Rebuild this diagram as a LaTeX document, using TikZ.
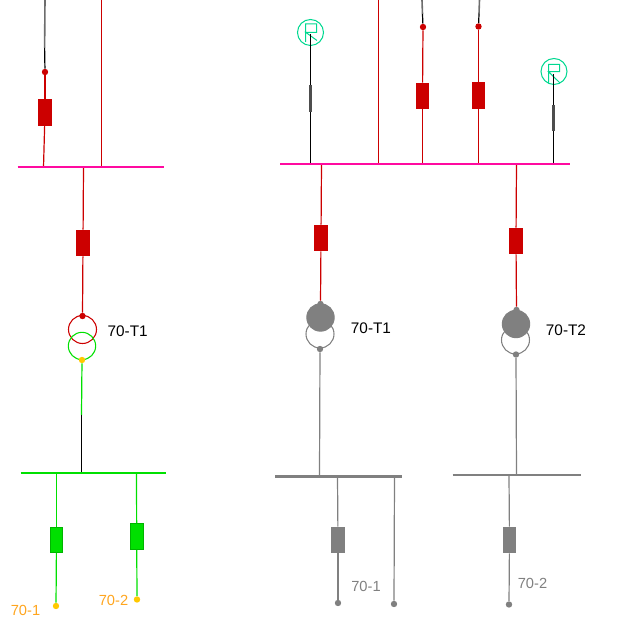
\documentclass[tikz,border=0pt]{standalone}
\usepackage{fontspec}
\setmainfont{Liberation Sans}
\definecolor{rd}{HTML}{CC0000}
\definecolor{pk}{HTML}{FF0AA0}
\definecolor{gn}{HTML}{00E000}
\definecolor{dgn}{HTML}{00B400}
\definecolor{gy}{HTML}{808080}
\definecolor{or}{HTML}{FFA51E}
\definecolor{yl}{HTML}{FFC800}
\definecolor{tl}{HTML}{00D890}
\tikzset{
  wire/.style={line width=.9pt,line cap=butt},
  topwire/.style={line width=1.2pt,color=gy!85!black},
  busbar/.style={line width=1.7pt},
  brk/.style={rectangle,inner sep=0pt,minimum width=10pt,minimum height=19.8pt},
  dotn/.style={circle,inner sep=0pt,minimum size=4.8pt,fill=#1},
  ring/.style={circle,inner sep=0pt,minimum size=#1,draw,line width=.8pt},
  lbl/.style={font=\fontsize{11.5pt}{13pt}\selectfont,text=black,inner sep=0pt},
  lbls/.style={font=\fontsize{11pt}{13pt}\selectfont,inner sep=0pt},
  thick seg/.style={line width=2.2pt,color=gy!60!black},
  relay/.style={tl,line width=.75pt},
}
\begin{document}
\begin{tikzpicture}[x=.75pt,y=-.75pt]
\useasboundingbox (0,0) rectangle (644,630);
% --- left diagram: fixed points
\coordinate (LtopA) at (45,0);
\coordinate (LmidA) at (44.6,48);
\coordinate (LtopB) at (101.5,0);
\coordinate (LbusW) at (17.5,167.3);
\coordinate (LbusE) at (163.5,167.3);
\coordinate (LbusA) at (43.5,167.3);
\coordinate (LbusB) at (101.5,167.3);
\coordinate (LbusC) at (83.5,167.3);
\coordinate (LgbW) at (20.5,473);
\coordinate (LgbE) at (166,473);
\coordinate (LgbA) at (81.5,473);
\coordinate (LgbB) at (56.5,473);
\coordinate (LgbC) at (136.5,473);
\coordinate (Lgb) at (81.5,415);
% nodes
\node[brk,fill=rd] (Lb1) at (45,112.5) {};
\node[brk,fill=rd] (Lb2) at (83,243) {};
\node[brk,fill=gn,draw=dgn,line width=.6pt,minimum width=9pt,minimum height=18.8pt] (Lb3) at (56.5,540) {};
\node[brk,fill=gn,draw=dgn,line width=.6pt,minimum width=9.5pt,minimum height=19.5pt] (Lb4) at (136.7,536.5) {};
\node[ring=21pt,draw=rd] (Lt1) at (82.5,329.5) {};
\node[ring=20.5pt,draw=gn] (Lt2) at (82,346) {};
\node[dotn=rd] (Ld1) at (45,72) {};
\node[dotn=rd] (Ld2) at (82.5,316) {};
\node[dotn=yl] (Ld3) at (82,360) {};
\node[dotn=yl] (Ld4) at (56,606) {};
\node[dotn=yl] (Ld5) at (137,599.5) {};
\node[lbl] (Ll1) at (127.7,331.5) {70-T1};
\node[lbls,text=or] (Ll2) at (25.5,610) {70-1};
\node[lbls,text=or] (Ll3) at (113.5,600.5) {70-2};
% connectors
\draw[topwire] (LtopA) -- (LmidA);
\draw[wire,black] (LmidA) -- (Ld1);
\draw[wire,rd] (Ld1) -- (Lb1);
\draw[wire,rd] (Lb1) -- (LbusA);
\draw[wire,rd] (LtopB) -- (LbusB);
\draw[wire,rd] (LbusC) -- (Lb2);
\draw[wire,rd] (Lb2) -- (Ld2);
\draw[wire,gn] (Ld3) -- (Lgb);
\draw[wire,black] (Lgb) -- (LgbA);
\draw[wire,gn] (LgbB) -- (Lb3);
\draw[wire,gn] (Lb3) -- (Ld4);
\draw[wire,gn] (LgbC) -- (Lb4);
\draw[wire,gn] (Lb4) -- (Ld5);
\draw[busbar,pk] (LbusW) -- (LbusE);
\draw[busbar,gn] (LgbW) -- (LgbE);
% --- right diagram: fixed points
\coordinate (RbusW) at (280,164.2);
\coordinate (RbusE) at (570,164.2);
\coordinate (RbusA) at (310.5,164);
\coordinate (RbusB) at (378.5,164);
\coordinate (RbusC) at (422.5,164);
\coordinate (RbusD) at (478.5,164);
\coordinate (RbusE2) at (553.5,164);
\coordinate (RbusF) at (321.5,164);
\coordinate (RbusG) at (516.5,164);
\coordinate (RtopB) at (378.5,0);
\coordinate (RtopC) at (422,0);
\coordinate (RmidC) at (422.5,14);
\coordinate (RtopD) at (479.5,0);
\coordinate (RmidD) at (479,14);
\coordinate (Rs1) at (310.5,85);
\coordinate (Rs2) at (310.5,112);
\coordinate (Rs3) at (553.5,105);
\coordinate (Rs4) at (553.5,131);
\coordinate (Gb1W) at (275,476.5);
\coordinate (Gb1E) at (401.5,476.5);
\coordinate (Gb1A) at (319.5,476.5);
\coordinate (Gb1B) at (337.5,476.5);
\coordinate (Gb1C) at (394.5,476.5);
\coordinate (Gb2W) at (452.5,475);
\coordinate (Gb2E) at (580.5,475);
\coordinate (Gb2A) at (516.5,475);
\coordinate (Gb2B) at (509,475);
% nodes
\node[circle,inner sep=0pt,minimum size=19.5pt,draw=tl,line width=.75pt] (Rr1) at (310.5,32.5) {};
\node[circle,inner sep=0pt,minimum size=19.5pt,draw=tl,line width=.75pt] (Rr2) at (554,71.5) {};
\node[brk,fill=rd] (Rb1) at (422.5,96) {};
\node[brk,fill=rd,minimum height=20.2pt] (Rb2) at (478.5,95.5) {};
\node[brk,fill=rd] (Rb3) at (321,238) {};
\node[brk,fill=rd] (Rb4) at (516,241) {};
\node[brk,fill=gy] (Rb5) at (338,540) {};
\node[brk,fill=gy,minimum width=9.7pt] (Rb6) at (509.5,540) {};
\node[ring=21pt,draw=gy] (Rt1b) at (320,334) {};
\node[ring=20.5pt,fill=gy,draw=gy] (Rt1a) at (320.5,317.5) {};
\node[ring=21pt,draw=gy] (Rt2b) at (515.5,340) {};
\node[ring=20.5pt,fill=gy,draw=gy] (Rt2a) at (516,324) {};
\node[dotn=rd] (Rd1) at (423,27) {};
\node[dotn=rd] (Rd2) at (478.5,26.5) {};
\node[dotn=gy] (Rd3) at (320.5,304) {};
\node[dotn=gy] (Rd4) at (320,349) {};
\node[dotn=gy] (Rd5) at (516.5,310) {};
\node[dotn=gy] (Rd6) at (516,354.5) {};
\node[dotn=gy] (Rd7) at (338,603) {};
\node[dotn=gy] (Rd8) at (394,604) {};
\node[dotn=gy] (Rd9) at (509,604.5) {};
\node[lbl] (Rl1) at (371,328.5) {70-T1};
\node[lbl] (Rl2) at (566,330.5) {70-T2};
\node[lbls,text=gy] (Rl3) at (366,586) {70-1};
\node[lbls,text=gy] (Rl4) at (532.5,583.5) {70-2};
% connectors
\draw[relay] (305.7,42) -- (305.7,24) -- (316.7,24) -- (316.7,32.3) -- (305.7,32.3) -- (317,40.5);
\draw[relay] (548.5,83) -- (548.5,64.3) -- (559.5,64.3) -- (559.5,71.7) -- (548.5,71.7) -- (560,83);
\draw[wire,black] (Rr1.center) ++(0,1.5) -- (RbusA);
\draw[wire,black] (Rr2.center) ++(-.5,2.5) -- (RbusE2);
\draw[thick seg] (Rs1) -- (Rs2);
\draw[thick seg] (Rs3) -- (Rs4);
\draw[wire,rd] (RtopB) -- (RbusB);
\draw[topwire] (RtopC) -- (RmidC);
\draw[wire,black] (RmidC) -- (Rd1);
\draw[wire,rd] (Rd1) -- (Rb1);
\draw[wire,rd] (Rb1) -- (RbusC);
\draw[topwire] (RtopD) -- (RmidD);
\draw[wire,black] (RmidD) -- (Rd2);
\draw[wire,rd] (Rd2) -- (Rb2);
\draw[wire,rd] (Rb2) -- (RbusD);
\draw[wire,rd] (RbusF) -- (Rb3);
\draw[wire,rd] (Rb3) -- (Rd3);
\draw[wire,rd] (RbusG) -- (Rb4);
\draw[wire,rd] (Rb4) -- (Rd5);
\draw[wire,gy] (Rd4) -- (Gb1A);
\draw[wire,gy] (Rd6) -- (Gb2A);
\draw[wire,gy] (Gb1B) -- (Rb5);
\draw[wire,gy] (Rb5) -- (Rd7);
\draw[wire,gy] (Gb1C) -- (Rd8);
\draw[wire,gy] (Gb2B) -- (Rb6);
\draw[wire,gy] (Rb6) -- (Rd9);
\draw[busbar,pk] (RbusW) -- (RbusE);
\draw[busbar,gy] (Gb1W) -- (Gb1E);
\draw[busbar,gy] (Gb2W) -- (Gb2E);
\end{tikzpicture}
\end{document}
